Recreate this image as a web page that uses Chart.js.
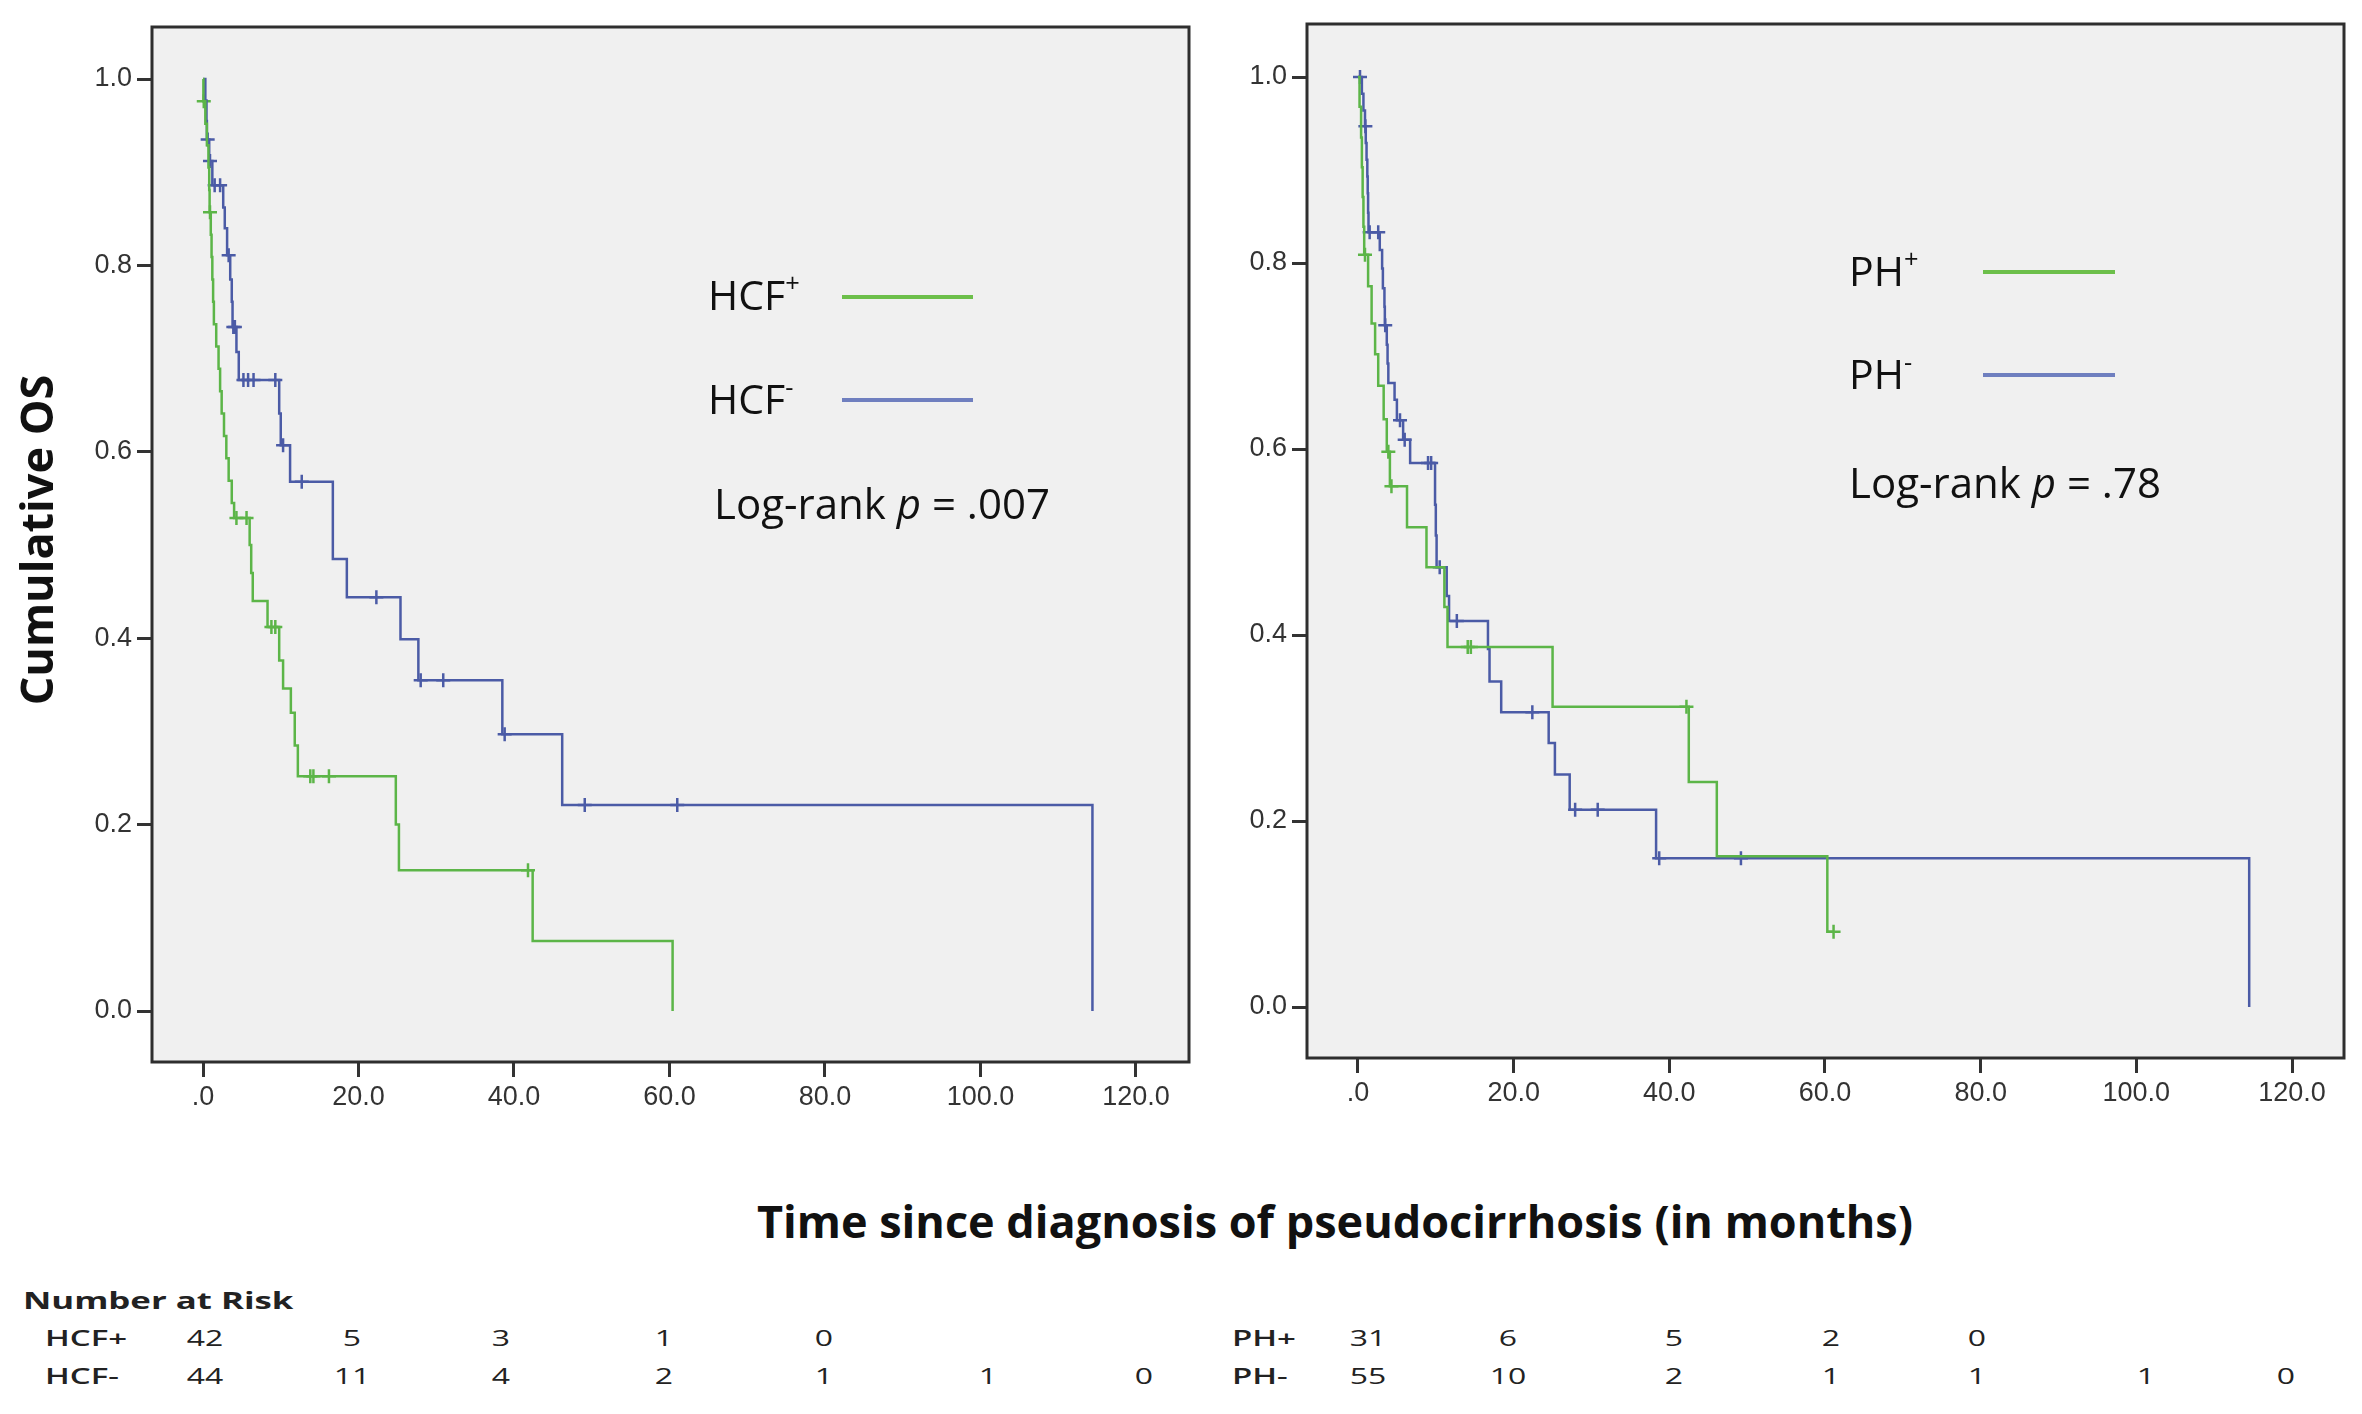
<!DOCTYPE html>
<html><head><meta charset="utf-8">
<script src="https://cdn.jsdelivr.net/npm/chart.js@4.4.0/dist/chart.umd.min.js"></script>
<style>
html,body{margin:0;padding:0;background:#fff;}
#page{position:relative;width:2362px;height:1414px;overflow:hidden;font-family:'Open Sans',sans-serif;color:#111;}
.cv{position:absolute;top:0;}
.t{position:absolute;white-space:nowrap;line-height:1;}
sup{font-size:0.62em;line-height:0;vertical-align:0.7em;}
.leg{position:absolute;height:4px;}
.num{position:absolute;width:100px;text-align:center;font-size:22px;line-height:1;transform:scaleX(1.45);color:#222;}
.rl{position:absolute;font-size:22px;line-height:1;font-weight:600;transform:scaleX(1.5);transform-origin:left center;color:#222;white-space:nowrap;}
</style></head><body><div id="page">
<canvas id="c1" class="cv" style="left:0px" width="1200" height="1110"></canvas>
<canvas id="c2" class="cv" style="left:1200px" width="1162" height="1110"></canvas>

<div class="t" style="left:708px;top:274px;font-size:41px;">HCF<sup>+</sup></div>
<div class="leg" style="left:842px;top:295px;width:131px;background:#6cbf4a;"></div>
<div class="t" style="left:708px;top:378px;font-size:41px;">HCF<sup>-</sup></div>
<div class="leg" style="left:842px;top:398px;width:131px;background:#6f7fbf;"></div>
<div class="t" style="left:714px;top:482px;font-size:42px;">Log-rank <i>p</i> = .007</div>

<div class="t" style="left:1849px;top:250px;font-size:41px;">PH<sup>+</sup></div>
<div class="leg" style="left:1983px;top:270px;width:132px;background:#6cbf4a;"></div>
<div class="t" style="left:1849px;top:353px;font-size:41px;">PH<sup>-</sup></div>
<div class="leg" style="left:1983px;top:373px;width:132px;background:#6f7fbf;"></div>
<div class="t" style="left:1849px;top:461px;font-size:42px;">Log-rank <i>p</i> = .78</div>

<div class="t" style="left:-164px;top:515px;width:400px;height:50px;line-height:50px;text-align:center;font-size:45px;font-weight:700;transform:rotate(-90deg);">Cumulative OS</div>
<div class="t" style="left:335px;top:1198px;width:2000px;text-align:center;font-size:45px;font-weight:700;">Time since diagnosis of pseudocirrhosis (in months)</div>

<div class="rl" style="left:23px;top:1288px;font-size:24px;font-weight:700;transform:scaleX(1.45);">Number at Risk</div>
<div id="table"></div>
</div>
<script>
// ---- axis ticks ----
const xTickValues = [0, 20, 40, 60, 80, 100, 120];
const xTickLabels = ['.0', '20.0', '40.0', '60.0', '80.0', '100.0', '120.0'];
const yTickValues = [0, 0.2, 0.4, 0.6, 0.8, 1.0];
const yTickLabels = ['0.0', '0.2', '0.4', '0.6', '0.8', '1.0'];

// ---- left panel: HCF+ / HCF- (time in months, cumulative survival) ----
const hcfPosTime = [0, 0.05, 0.3, 0.5, 0.7, 0.8, 0.85, 1.0, 1.1, 1.2, 1.3, 1.4, 1.7, 2.0, 2.2, 2.4, 2.7, 3.0, 3.3, 3.7, 4.0, 6.0, 6.2, 6.4, 8.3, 9.8, 10.3, 11.3, 11.8, 12.2, 24.8, 25.2, 42.4, 60.4];
const hcfPosSurv = [1.0, 0.976, 0.952, 0.929, 0.905, 0.881, 0.857, 0.833, 0.809, 0.785, 0.761, 0.737, 0.713, 0.689, 0.665, 0.641, 0.617, 0.593, 0.569, 0.545, 0.529, 0.50, 0.47, 0.44, 0.412, 0.376, 0.346, 0.32, 0.285, 0.252, 0.20, 0.151, 0.075, 0.0];
const hcfPosCensor = [0.1, 0.9, 4.3, 5.6, 8.8, 9.3, 13.8, 14.2, 16.2, 41.8];

const hcfNegTime = [0, 0.3, 0.45, 0.5, 0.8, 1.2, 2.6, 2.8, 3.1, 3.5, 3.7, 3.8, 4.3, 4.6, 9.8, 10.0, 11.2, 16.7, 18.5, 25.4, 27.7, 38.5, 46.2, 114.4];
const hcfNegSurv = [1.0, 0.977, 0.955, 0.935, 0.912, 0.886, 0.862, 0.84, 0.811, 0.785, 0.761, 0.734, 0.707, 0.677, 0.641, 0.607, 0.568, 0.485, 0.444, 0.399, 0.355, 0.297, 0.221, 0.0];
const hcfNegCensor = [0.6, 0.9, 1.5, 2.2, 3.3, 3.9, 4.1, 5.2, 5.8, 6.5, 9.3, 10.3, 12.7, 22.3, 28.0, 30.9, 38.8, 49.1, 61.0];

// ---- right panel: PH+ / PH- ----
const phPosTime = [0, 0.2, 0.4, 0.5, 0.6, 0.7, 0.8, 1.3, 1.75, 2.2, 2.6, 3.3, 3.7, 4.1, 6.3, 8.8, 11.1, 11.5, 25.0, 42.5, 46.1, 60.3, 61.1];
const phPosSurv = [1.0, 0.968, 0.935, 0.903, 0.871, 0.839, 0.809, 0.775, 0.735, 0.702, 0.668, 0.632, 0.597, 0.56, 0.516, 0.473, 0.43, 0.387, 0.323, 0.242, 0.162, 0.081, 0.081];
const phPosCensor = [0.9, 3.9, 4.3, 14.1, 14.5, 42.2, 61.1];

const phNegTime = [0, 0.5, 0.7, 0.9, 1.0, 1.1, 1.2, 1.25, 1.3, 1.35, 2.8, 3.1, 3.2, 3.4, 3.45, 3.7, 3.8, 3.9, 4.7, 5.0, 5.8, 6.7, 9.9, 10.0, 10.1, 11.4, 11.7, 16.7, 16.9, 18.4, 24.5, 25.3, 27.2, 38.3, 114.5];
const phNegSurv = [1.0, 0.982, 0.964, 0.947, 0.929, 0.911, 0.893, 0.875, 0.854, 0.833, 0.814, 0.794, 0.773, 0.753, 0.733, 0.712, 0.692, 0.671, 0.653, 0.631, 0.610, 0.585, 0.54, 0.507, 0.473, 0.442, 0.415, 0.385, 0.35, 0.317, 0.284, 0.25, 0.212, 0.16, 0.0];
const phNegCensor = [0.26, 0.95, 1.5, 2.6, 3.5, 5.4, 6.0, 9.0, 9.4, 10.5, 12.7, 22.4, 27.9, 30.8, 38.7, 49.2];

// ---- number at risk ----
const hcfPosRisk = [42, 5, 3, 1, 0];
const hcfNegRisk = [44, 11, 4, 2, 1, 1, 0];
const phPosRisk = [31, 6, 5, 2, 0];
const phNegRisk = [55, 10, 2, 1, 1, 1, 0];

// ---- styling / layout (not data) ----
const GREEN = '#5cb548';
const BLUE = '#4b5ba6';
const leftRiskCols = [205, 352, 501, 664, 824, 988, 1144];
const rightRiskCols = [1368, 1508, 1674, 1831, 1977, 2146, 2286];

function survAt(times, surv, t) {
  let s = surv[0];
  for (let i = 0; i < times.length; i++) if (times[i] <= t) s = surv[i];
  return s;
}
function curve(times, surv) { return times.map((t, i) => ({x: t, y: surv[i]})); }
function marks(times, surv, cens) { return cens.map(t => ({x: t, y: survAt(times, surv, t)})); }

const framePlugin = {
  id: 'frame',
  beforeDraw(chart) {
    const {ctx, chartArea: a} = chart;
    ctx.save();
    ctx.fillStyle = '#f0f0f0';
    ctx.fillRect(a.left, a.top, a.right - a.left, a.bottom - a.top);
    ctx.restore();
  },
  afterDraw(chart) {
    const {ctx, chartArea: a} = chart;
    ctx.save();
    ctx.strokeStyle = '#2e2e2e';
    ctx.lineWidth = 3;
    ctx.strokeRect(a.left, a.top, a.right - a.left, a.bottom - a.top);
    ctx.restore();
  }
};

function lineDs(times, surv, color) {
  return {type: 'scatter', data: curve(times, surv), showLine: true, stepped: true,
    borderColor: color, borderWidth: 2.5, pointRadius: 0, pointHoverRadius: 0, fill: false};
}
function censDs(times, surv, cens, color) {
  return {type: 'scatter', data: marks(times, surv, cens), showLine: false,
    pointStyle: 'cross', pointRadius: 7, pointBorderWidth: 2.5, borderColor: color,
    backgroundColor: color, pointHoverRadius: 7};
}

function makeChart(id, datasets, xr, yr, pad, yw, xh) {
  const tickFont = {family: "'Liberation Sans', Arial, sans-serif", size: 27};
  return new Chart(document.getElementById(id), {
    type: 'scatter',
    data: {datasets},
    plugins: [framePlugin],
    options: {
      responsive: false, animation: false, devicePixelRatio: 1,
      events: [],
      layout: {padding: pad},
      plugins: {legend: {display: false}, tooltip: {enabled: false}},
      scales: {
        x: {
          type: 'linear', min: xr[0], max: xr[1],
          afterBuildTicks: ax => { ax.ticks = xTickValues.map(v => ({value: v})); },
          afterFit: s => { s.height = xh; },
          ticks: {font: tickFont, color: '#333', padding: 4, maxRotation: 0, autoSkip: false,
            callback: (v, i) => xTickLabels[i]},
          grid: {display: true, drawOnChartArea: false, drawTicks: true, tickLength: 15,
            tickWidth: 3, tickColor: '#333', color: '#333'},
          border: {display: false}
        },
        y: {
          type: 'linear', min: yr[0], max: yr[1],
          afterBuildTicks: ax => { ax.ticks = yTickValues.map(v => ({value: v})); },
          afterFit: s => { s.width = yw; },
          ticks: {font: tickFont, color: '#333', padding: 5, autoSkip: false,
            callback: (v, i) => yTickLabels[i]},
          grid: {display: true, drawOnChartArea: false, drawTicks: true, tickLength: 15,
            tickWidth: 3, tickColor: '#333', color: '#333'},
          border: {display: false}
        }
      }
    }
  });
}

makeChart('c1', [
  lineDs(hcfPosTime, hcfPosSurv, GREEN),
  lineDs(hcfNegTime, hcfNegSurv, BLUE),
  censDs(hcfPosTime, hcfPosSurv, hcfPosCensor, GREEN),
  censDs(hcfNegTime, hcfNegSurv, hcfNegCensor, BLUE)
], [-6.56, 126.82], [-0.0547, 1.0558], {top: 27, right: 11, left: 0, bottom: 0}, 152, 48);

makeChart('c2', [
  lineDs(phPosTime, phPosSurv, GREEN),
  lineDs(phNegTime, phNegSurv, BLUE),
  censDs(phPosTime, phPosSurv, phPosCensor, GREEN),
  censDs(phNegTime, phNegSurv, phNegCensor, BLUE)
], [-6.55, 126.68], [-0.0548, 1.057], {top: 24, right: 18, left: 0, bottom: 0}, 107, 52);

// ---- risk table ----
const tbl = document.getElementById('table');
function addLabel(text, x, cy) {
  const d = document.createElement('div');
  d.className = 'rl'; d.textContent = text;
  d.style.left = x + 'px'; d.style.top = (cy - 12) + 'px';
  tbl.appendChild(d);
}
function addRow(vals, cols, cy) {
  vals.forEach((v, i) => {
    const d = document.createElement('div');
    d.className = 'num'; d.textContent = v;
    d.style.left = (cols[i] - 50) + 'px'; d.style.top = (cy - 12) + 'px';
    tbl.appendChild(d);
  });
}
addLabel('HCF+', 45, 1338); addRow(hcfPosRisk, leftRiskCols, 1338);
addLabel('HCF-', 45, 1376); addRow(hcfNegRisk, leftRiskCols, 1376);
addLabel('PH+', 1232, 1338); addRow(phPosRisk, rightRiskCols, 1338);
addLabel('PH-', 1232, 1376); addRow(phNegRisk, rightRiskCols, 1376);
</script>
</body></html>
